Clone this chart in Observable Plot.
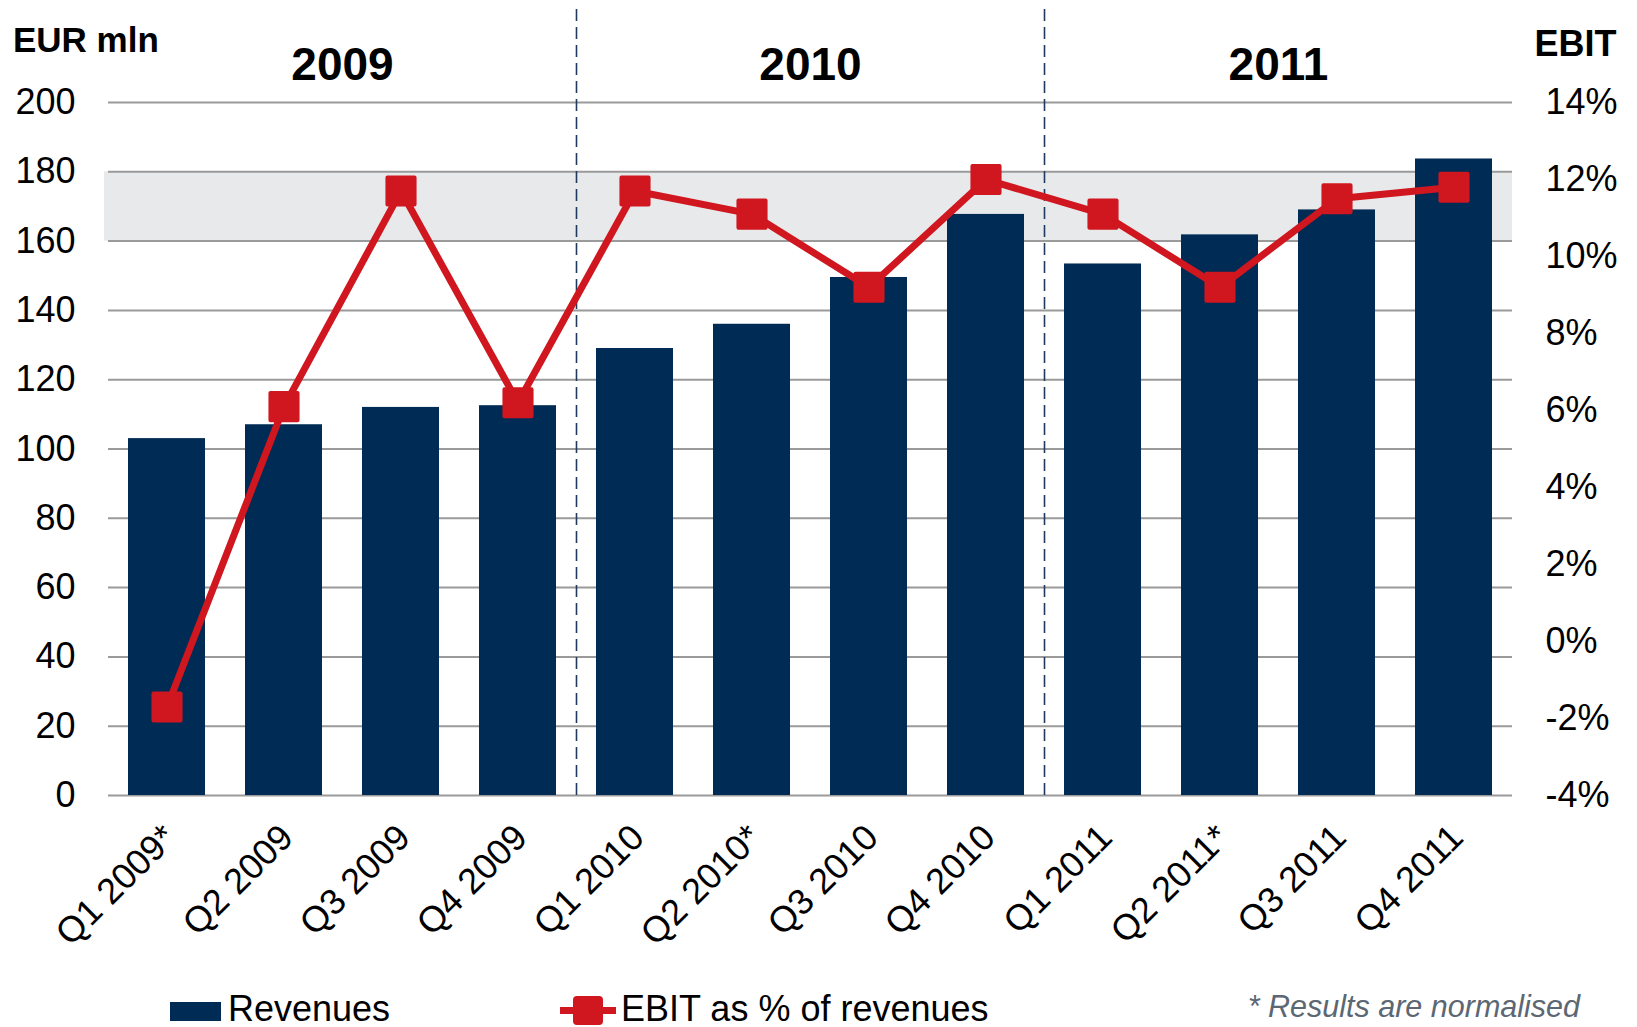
<!DOCTYPE html>
<html><head><meta charset="utf-8">
<script src="https://cdn.jsdelivr.net/npm/d3@7"></script>
<script src="https://cdn.jsdelivr.net/npm/@observablehq/plot@0.6"></script>
<style>
html,body{margin:0;padding:0;background:#fff;}
body{width:1637px;height:1027px;position:relative;overflow:hidden;font-family:"Liberation Sans",Arial,sans-serif;}
#chart{position:absolute;left:0;top:0;}
.lg{position:absolute;line-height:1;white-space:nowrap;}
</style></head><body>
<div id="chart"></div>
<div class="lg" style="left:170px;top:1002px;width:51px;height:19px;background:#002b54;"></div>
<div class="lg" style="left:228px;top:991px;font-size:36px;color:#000;">Revenues</div>
<svg class="lg" style="left:560px;top:995px;" width="56" height="31"><line x1="0" x2="56" y1="15.5" y2="15.5" stroke="#d0161e" stroke-width="7"/><rect x="13" y="1" width="30" height="29" rx="4" fill="#d0161e"/></svg>
<div class="lg" style="left:621px;top:991px;font-size:36px;color:#000;">EBIT as % of revenues</div>
<div class="lg" style="right:57px;top:991px;font-size:30.5px;font-style:italic;color:#5b6773;">* Results are normalised</div>
<script>
const quarters = ["Q1 2009*","Q2 2009","Q3 2009","Q4 2009","Q1 2010","Q2 2010*","Q3 2010","Q4 2010","Q1 2011","Q2 2011*","Q3 2011","Q4 2011"];
const revenues = [103, 107, 112, 112.5, 129, 136, 149.5, 167.7, 153.4, 161.8, 169, 183.7];
const ebitPct = [-1.7, 6.1, 11.7, 6.2, 11.7, 11.1, 9.2, 12.0, 11.1, 9.2, 11.5, 11.8];
const years = ["2009","2010","2011"];
const yearCenterAfter = ["Q2 2009","Q2 2010*","Q2 2011*"];
const yearSeparators = ["Q1 2010","Q1 2011"];
const leftTicks = [0,20,40,60,80,100,120,140,160,180,200];
const rightTicks = [-4,-2,0,2,4,6,8,10,12,14];
const highlightBand = [[160,180]];

const leftMax = 200, rightMin = -4, rightMax = 14;
const toLeft = p => (p - rightMin) * leftMax / (rightMax - rightMin);
const toRight = v => v * (rightMax - rightMin) / leftMax + rightMin;

const W = 1637, H = 975, mL = 108, mR = 125, mT = 102, mB = 180;
const step = (W - mL - mR) / quarters.length;

const data = quarters.map((q, i) => ({q, rev: revenues[i], ebit: ebitPct[i]}));
const navy = "#002b54", red = "#d0161e";

const chart = Plot.plot({
  width: W, height: H,
  marginLeft: mL, marginRight: mR, marginTop: mT, marginBottom: mB,
  style: {fontFamily: "'Liberation Sans', Arial, sans-serif", fontSize: "36px", color: "#000", background: "#fff", overflow: "visible"},
  x: {domain: quarters, paddingInner: 0.34, paddingOuter: 0.17, axis: null},
  y: {domain: [0, leftMax], axis: null},
  marks: [
    Plot.rectY(highlightBand, {y1: d => d[0], y2: d => d[1], fill: "#e8e9eb", insetLeft: -4}),
    Plot.gridY(leftTicks, {stroke: "#9a9a9a", strokeOpacity: 1, strokeWidth: 2}),
    Plot.barY(data, {x: "q", y: "rev", fill: navy}),
    Plot.ruleX(yearSeparators, {dx: -step / 2, stroke: "#1f3a5f", strokeWidth: 1.6, strokeDasharray: "12,6", insetTop: -93}),
    Plot.lineY(data, {x: "q", y: d => toLeft(d.ebit), stroke: red, strokeWidth: 7}),
    Plot.dot(data, {x: "q", y: d => toLeft(d.ebit), symbol: "square", r: 15.3, fill: red, stroke: red, strokeWidth: 4, strokeLinejoin: "round"}),
    Plot.axisY(leftTicks, {anchor: "left", label: null, tickSize: 0, tickPadding: 33, fontSize: 36}),
    Plot.axisY(rightTicks.map(toLeft), {anchor: "right", label: null, tickSize: 0, tickPadding: 33, fontSize: 36, tickFormat: v => `${Math.round(toRight(v))}%`}),
    Plot.text(quarters, {x: d => d, frameAnchor: "bottom", text: d => d, rotate: -45, textAnchor: "end", lineAnchor: "middle", dx: 3, dy: 36, fontSize: 36, fill: "#000"}),
    Plot.text(years, {x: yearCenterAfter, frameAnchor: "top", text: d => d, lineAnchor: "bottom", dx: step / 2, dy: -23, fontSize: 46, fontWeight: "bold", fill: "#000"}),
    Plot.text(["EUR mln"], {frameAnchor: "top-left", text: d => d, textAnchor: "start", lineAnchor: "bottom", dx: -95.5, dy: -51, fontSize: 35, fontWeight: "bold", fill: "#000"}),
    Plot.text(["EBIT"], {frameAnchor: "top-right", text: d => d, textAnchor: "middle", lineAnchor: "bottom", dx: 63, dy: -47, fontSize: 36, fontWeight: "bold", fill: "#000"})
  ]
});
document.getElementById("chart").appendChild(chart);
</script>
</body></html>
